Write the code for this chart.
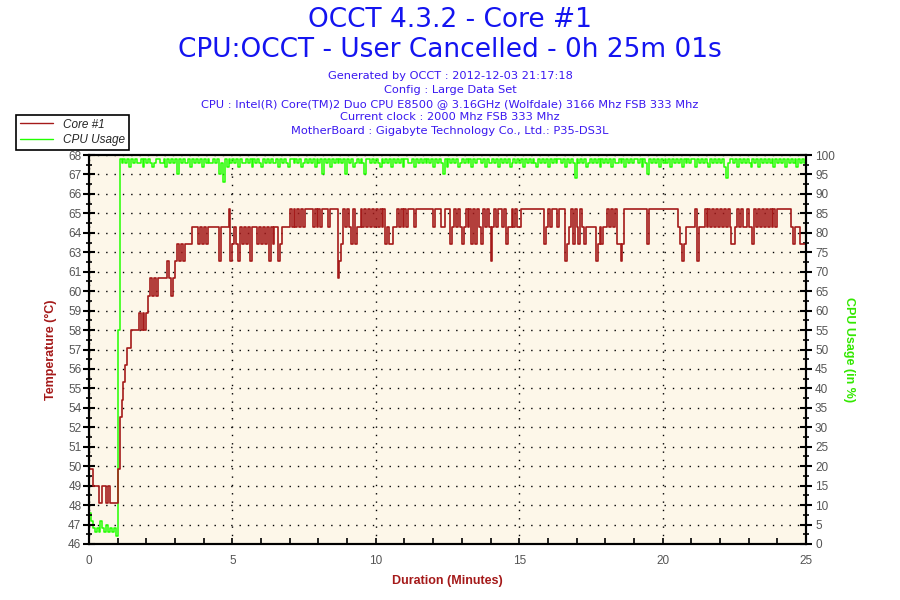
import numpy as np, pandas as pd, matplotlib
matplotlib.use('Agg')
import matplotlib.pyplot as plt, seaborn as sns
from matplotlib.ticker import MultipleLocator, FixedLocator, AutoMinorLocator
from matplotlib.lines import Line2D

# one sample every 4 seconds, 0 .. 1500 s
step_sec = 4

# Core #1 temperature, first 5 minutes (deg C)
temp_early = [50, 50, 49, 49, 49, 48, 48, 49, 49, 48, 49, 48, 48, 48, 48,
              50, 53, 54, 55, 56, 57, 57, 58, 58, 58, 58, 59, 58, 59, 58,
              59, 60, 61, 60, 61, 60, 61, 61, 61, 61, 61, 62, 61, 60, 61,
              62, 63, 62, 63, 62, 63, 63, 63, 63, 64, 64, 64, 63, 64, 63,
              64, 63, 64, 64, 64, 64, 64, 64, 62, 64, 64, 64, 64, 65, 62]
# rest of the run, each digit = temperature - 60
temp_late = ("3432434342" "444" "343434243442" "34444"
             "5454545455554545455545555" "123" "54543534" "4"
             "5454545454545" "343344" "54545455" "5455555"
             "555545554455534545434" "5453535435454" "2" "4545545" "3"
             "4454544" "555555555555" "3" "4545554555" "2"
             "34535435434" "4444" "2" "343" "44" "54545" "3"
             "323" "55" "5555555555" "3" "555555555555555" "4"
             "32" "34" "4444" "5" "2" "444" "54545454545454" "33"
             "454544544" "3" "545454545454" "5555555" "4" "3" "444" "3334")

# CPU usage (%): idle start, the jump, then 100 minus the dips, then stop
cpu_early = [8, 6, 4, 3, 4, 3, 6, 4, 3, 5, 3, 4, 3, 4, 2, 55]
cpu_drop = ("1212131212" "2131212321" "1221312121" "5121221312" "1213121221"
            "2152713121" "2131221213" "1212312121" "2213121231" "1212132121"
            "2131215121" "3121212151" "2132121251" "1212123121" "2131212131"
            "1221312121" "2121312125" "1312121321" "2121312112" "1312212131"
            "2121321212" "1312121231" "2121312121" "1213121261" "2121321212"
            "1312121312" "2121312121" "1213125121" "2131212131" "2121312121"
            "1312121231" "2121213621" "1213121212" "3121312121" "2131212131"
            "212131212")
cpu_end = [0]

temp_ticklabels = ['46', '47', '48', '49', '50', '51', '52', '54', '55', '56', '57',
                   '58', '59', '60', '61', '63', '64', '65', '66', '67', '68']
temp_range = (45.65, 68.14)

title1 = "OCCT 4.3.2 - Core #1"
title2 = "CPU:OCCT - User Cancelled - 0h 25m 01s"
info_lines = ["Generated by OCCT : 2012-12-03 21:17:18",
              "Config : Large Data Set",
              "CPU : Intel(R) Core(TM)2 Duo CPU E8500 @ 3.16GHz (Wolfdale) 3166 Mhz FSB 333 Mhz",
              "Current clock : 2000 Mhz FSB 333 Mhz",
              "MotherBoard : Gigabyte Technology Co., Ltd.: P35-DS3L"]

temps = temp_early + [60 + int(c) for c in temp_late]
cpu = cpu_early + [100 - int(c) for c in cpu_drop] + cpu_end
df_t = pd.DataFrame({'Minutes': np.arange(len(temps)) * step_sec / 60, 'Temp': temps})
df_c = pd.DataFrame({'Minutes': np.arange(len(cpu)) * step_sec / 60, 'CPU': cpu})

RED = '#a51a1a'
GREEN = '#22ff00'
GREEN_TXT = '#33e800'
TICK = '#555555'

sns.set_style('white')
plt.rcParams['font.family'] = ['Liberation Sans', 'DejaVu Sans']

fig = plt.figure(figsize=(9, 6), dpi=100)
ax = fig.add_axes([89/900, 1-544/600, (806-89)/900, (544-155)/600])
ax.set_facecolor('#fdf7e9')

# CPU usage on the main axes (right side), temperature on the twin (left side)
sns.lineplot(data=df_c, x='Minutes', y='CPU', ax=ax, color=GREEN, lw=1.1,
             drawstyle='steps-post', estimator=None, zorder=3)
ax.set_xlim(0, 25)
ax.set_ylim(0, 100)
ax.yaxis.set_major_locator(MultipleLocator(5))
ax.yaxis.set_minor_locator(AutoMinorLocator(2))
ax.xaxis.set_major_locator(MultipleLocator(5))
ax.xaxis.set_minor_locator(MultipleLocator(1))
ax.yaxis.tick_right()
ax.yaxis.set_label_position('right')
ax.grid(True, which='major', color='black', linestyle=(0, (1, 5)), lw=1)
ax.set_axisbelow(True)

axt = ax.twinx()
sns.lineplot(data=df_t, x='Minutes', y='Temp', ax=axt, color=RED, lw=1.2,
             drawstyle='steps-post', estimator=None)
axt.set_ylim(*temp_range)
axt.yaxis.set_major_locator(FixedLocator(np.linspace(temp_range[0], temp_range[1], 21)))
axt.set_yticklabels(temp_ticklabels)
axt.yaxis.set_minor_locator(AutoMinorLocator(2))
axt.yaxis.tick_left()
axt.yaxis.set_label_position('left')

for a in (ax, axt):
    for s in a.spines.values():
        s.set_color('black')
        s.set_linewidth(1.5)

ax.tick_params(axis='x', which='both', direction='in', length=4, width=1.2,
               colors='black', labelcolor=TICK, labelsize=8.5, pad=8, bottom=True)
ax.tick_params(axis='y', which='major', direction='inout', length=9, width=1.5,
               colors='black', labelcolor=TICK, labelsize=8.5, right=True, left=False,
               labelright=True, labelleft=False, pad=2)
ax.tick_params(axis='y', which='minor', direction='inout', length=5, width=1.2,
               colors='black', right=True, left=False)
axt.tick_params(axis='y', which='major', direction='inout', length=9, width=1.5,
                colors='black', labelcolor=TICK, labelsize=8.5, left=True, right=False,
                labelleft=True, labelright=False, pad=1)
axt.tick_params(axis='y', which='minor', direction='inout', length=5, width=1.2,
                colors='black', left=True, right=False)

ax.set_xlabel('Duration (Minutes)', color=RED, fontsize=9, fontweight='bold', labelpad=6)
ax.set_ylabel('CPU Usage (in %)', color=GREEN_TXT, fontsize=9, fontweight='bold',
              rotation=270, va='bottom', labelpad=6)
axt.set_ylabel('Temperature (°C)', color=RED, fontsize=9, fontweight='bold', labelpad=8)

# titles
fig.text(0.5, 1-20/600, title1, ha='center', va='center', color='#1414f0',
         fontsize=19, family='DejaVu Sans')
fig.text(0.5, 1-50/600, title2, ha='center', va='center', color='#1414f0',
         fontsize=19, family='DejaVu Sans')
for i, line in enumerate(info_lines):
    fig.text(0.5, 1-(76 + i*13.8)/600, line, ha='center', va='center',
             color='#3a18f0', fontsize=8.2, family='DejaVu Sans')

handles = [Line2D([], [], color=RED, lw=1), Line2D([], [], color=GREEN, lw=1)]
leg = fig.legend(handles, ['Core #1', 'CPU Usage'], loc='upper left',
                 bbox_to_anchor=(16/900, 1-115/600), frameon=True, fancybox=False,
                 edgecolor='black', framealpha=1, prop={'style': 'italic', 'size': 8.5},
                 handlelength=2.8, borderpad=0.3, labelspacing=0.3, handletextpad=0.9,
                 borderaxespad=0)
leg.get_frame().set_linewidth(1.2)

fig.savefig('out.png', dpi=100, facecolor='white')
